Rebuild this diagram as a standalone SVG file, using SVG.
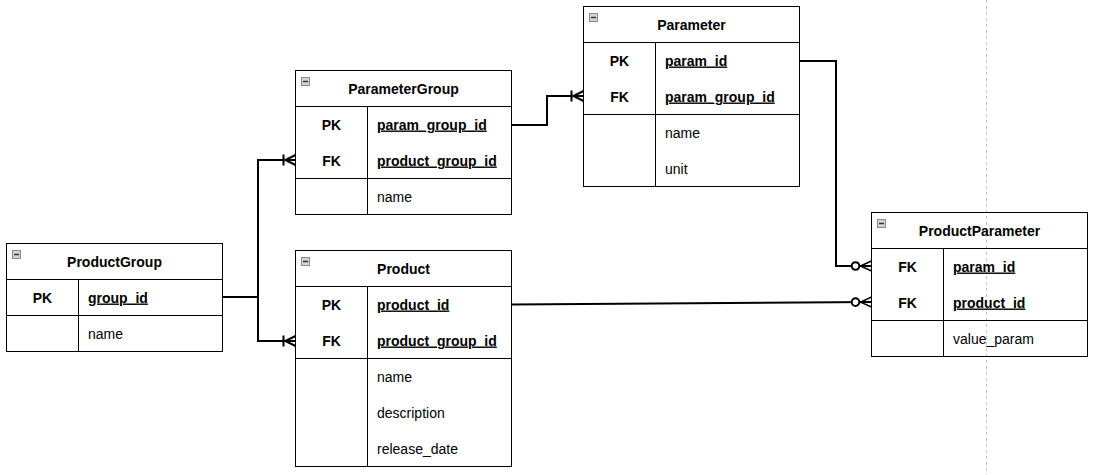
<svg xmlns="http://www.w3.org/2000/svg" width="1095" height="475" viewBox="0 0 1095 475">
<style>
.frame{fill:none;stroke:#000;stroke-width:1}
.sep{stroke:#000;stroke-width:1;fill:none}
.icon{fill:#d4d4d4;stroke:#8a8a8a;stroke-width:1}
.iconbar{stroke:#333;stroke-width:1.5}
text{font-family:"Liberation Sans",Arial,sans-serif;font-size:14px;fill:#000}
.h{font-weight:bold;text-anchor:middle}
.k{font-weight:bold;text-anchor:middle}
.pk{font-weight:bold;text-decoration:underline}
.conn{fill:none;stroke:#000;stroke-width:2}
.guide{stroke:#c8c8c8;stroke-width:1;stroke-dasharray:3 3}
</style>
<defs>
<marker id="oneMany" markerUnits="userSpaceOnUse" markerWidth="16" markerHeight="14" refX="15" refY="7" orient="auto" overflow="visible">
<path d="M5,7 L15,2 M5,7 L15,7 M5,7 L15,12 M3,1.5 L3,12.5" fill="none" stroke="#000" stroke-width="2"/>
</marker>
<marker id="zeroMany" markerUnits="userSpaceOnUse" markerWidth="22" markerHeight="14" refX="21" refY="7" orient="auto" overflow="visible">
<path d="M10,7 L21,2 M10,7 L21,7 M10,7 L21,12" fill="none" stroke="#000" stroke-width="1.5"/>
<circle cx="5" cy="7" r="3.8" fill="#fff" stroke="#000" stroke-width="2"/>
</marker>
</defs>
<rect width="1095" height="475" fill="#fff"/>
<line class="guide" x1="986.5" y1="0" x2="986.5" y2="475"/>

<g id="connectors">
<path class="conn" d="M222.5,297 H258 V160 H295.5" marker-end="url(#oneMany)"/>
<path class="conn" d="M258,297 V341 H295.5" marker-end="url(#oneMany)"/>
<path class="conn" d="M511.5,125 H547 V96 H583.5" marker-end="url(#oneMany)"/>
<path class="conn" d="M799.5,61 H836 V266 H871.5" marker-end="url(#zeroMany)"/>
<path class="conn" d="M511.5,304.5 L871.5,302" marker-end="url(#zeroMany)"/>
</g>

<g id="ProductGroup">
<rect class="frame" x="6.5" y="243.5" width="216" height="108"/>
<path class="sep" d="M6.5,279.5 H222.5 M6.5,315.5 H222.5 M78.5,279.5 V351.5"/>
<rect class="icon" x="12.5" y="250.5" width="8" height="8"/>
<line class="iconbar" x1="14" y1="254.5" x2="19" y2="254.5"/>
<text class="h" x="114.5" y="266.5">ProductGroup</text>
<text class="k" x="42.5" y="302.5">PK</text>
<text class="pk" x="88" y="302.5">group_id</text>
<text x="88" y="338.5">name</text>
</g>

<g id="ParameterGroup">
<rect class="frame" x="295.5" y="70.5" width="216" height="144"/>
<path class="sep" d="M295.5,106.5 H511.5 M295.5,178.5 H511.5 M367.5,106.5 V214.5"/>
<rect class="icon" x="301.5" y="77.5" width="8" height="8"/>
<line class="iconbar" x1="303" y1="81.5" x2="308" y2="81.5"/>
<text class="h" x="403.5" y="93.5">ParameterGroup</text>
<text class="k" x="331.5" y="129.5">PK</text>
<text class="pk" x="377" y="129.5">param_group_id</text>
<text class="k" x="331.5" y="165.5">FK</text>
<text class="pk" x="377" y="165.5">product_group_id</text>
<text x="377" y="201.5">name</text>
</g>

<g id="Parameter">
<rect class="frame" x="583.5" y="6.5" width="216" height="180"/>
<path class="sep" d="M583.5,42.5 H799.5 M583.5,114.5 H799.5 M655.5,42.5 V186.5"/>
<rect class="icon" x="589.5" y="13.5" width="8" height="8"/>
<line class="iconbar" x1="591" y1="17.5" x2="596" y2="17.5"/>
<text class="h" x="691.5" y="29.5">Parameter</text>
<text class="k" x="619.5" y="65.5">PK</text>
<text class="pk" x="665" y="65.5">param_id</text>
<text class="k" x="619.5" y="101.5">FK</text>
<text class="pk" x="665" y="101.5">param_group_id</text>
<text x="665" y="137.5">name</text>
<text x="665" y="173.5">unit</text>
</g>

<g id="Product">
<rect class="frame" x="295.5" y="250.5" width="216" height="216"/>
<path class="sep" d="M295.5,286.5 H511.5 M295.5,358.5 H511.5 M367.5,286.5 V466.5"/>
<rect class="icon" x="301.5" y="257.5" width="8" height="8"/>
<line class="iconbar" x1="303" y1="261.5" x2="308" y2="261.5"/>
<text class="h" x="403.5" y="273.5">Product</text>
<text class="k" x="331.5" y="309.5">PK</text>
<text class="pk" x="377" y="309.5">product_id</text>
<text class="k" x="331.5" y="345.5">FK</text>
<text class="pk" x="377" y="345.5">product_group_id</text>
<text x="377" y="381.5">name</text>
<text x="377" y="417.5">description</text>
<text x="377" y="453.5">release_date</text>
</g>

<g id="ProductParameter">
<rect class="frame" x="871.5" y="212.5" width="216" height="144"/>
<path class="sep" d="M871.5,248.5 H1087.5 M871.5,320.5 H1087.5 M943.5,248.5 V356.5"/>
<rect class="icon" x="877.5" y="219.5" width="8" height="8"/>
<line class="iconbar" x1="879" y1="223.5" x2="884" y2="223.5"/>
<text class="h" x="979.5" y="235.5">ProductParameter</text>
<text class="k" x="907.5" y="271.5">FK</text>
<text class="pk" x="953" y="271.5">param_id</text>
<text class="k" x="907.5" y="307.5">FK</text>
<text class="pk" x="953" y="307.5">product_id</text>
<text x="953" y="343.5">value_param</text>
</g>
</svg>
